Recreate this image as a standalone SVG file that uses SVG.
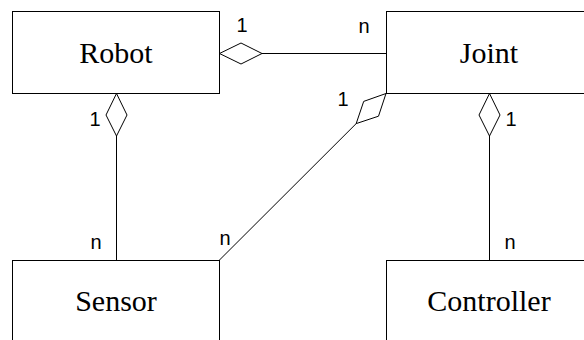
<svg xmlns="http://www.w3.org/2000/svg" width="584" height="340" viewBox="0 0 584 340">
<style>
.box{fill:#fff;stroke:#000;stroke-width:1}
.name{font-family:"Liberation Serif", serif;font-size:30px;text-anchor:middle;fill:#000}
.lbl{font-family:"Liberation Sans", sans-serif;font-size:20px;text-anchor:middle;fill:#000}
.ln{fill:none;stroke:#000;stroke-width:1}
.dia{fill:#fff;stroke:#000;stroke-width:1}
</style>
<rect width="584" height="340" fill="#fff"/>
<g id="connectors">
<line class="ln" x1="262" y1="53.5" x2="386" y2="53.5"/>
<polygon class="dia" points="219.5,53.5 241,43 262,53.5 241,64"/>
<line class="ln" x1="116.5" y1="136" x2="116.5" y2="260"/>
<polygon class="dia" points="116.5,93.5 127,115 116.5,136 106,115"/>
<line class="ln" x1="489.5" y1="136" x2="489.5" y2="260"/>
<polygon class="dia" points="489.5,93.5 500,115 489.5,136 479,115"/>
<line class="ln" x1="356.2" y1="123.6" x2="219.5" y2="260"/>
<polygon class="dia" points="386,93.5 378.5,116.2 356.2,123.6 363.7,101.4"/>
<text class="lbl" x="242" y="32">1</text>
<text class="lbl" x="364" y="33">n</text>
<text class="lbl" x="95" y="126">1</text>
<text class="lbl" x="96" y="249">n</text>
<text class="lbl" x="511" y="126">1</text>
<text class="lbl" x="510" y="249">n</text>
<text class="lbl" x="343" y="106">1</text>
<text class="lbl" x="225" y="245">n</text>
</g>
<g id="robot">
<rect class="box" x="12.5" y="11.5" width="207" height="82"/>
<text class="name" x="116" y="63">Robot</text>
</g>
<g id="joint">
<rect class="box" x="386.5" y="11.5" width="207" height="82"/>
<text class="name" x="489" y="63">Joint</text>
</g>
<g id="sensor">
<rect class="box" x="12.5" y="260.5" width="207" height="82"/>
<text class="name" x="116" y="311">Sensor</text>
</g>
<g id="controller">
<rect class="box" x="386.5" y="260.5" width="207" height="82"/>
<text class="name" x="489" y="311">Controller</text>
</g>
</svg>
